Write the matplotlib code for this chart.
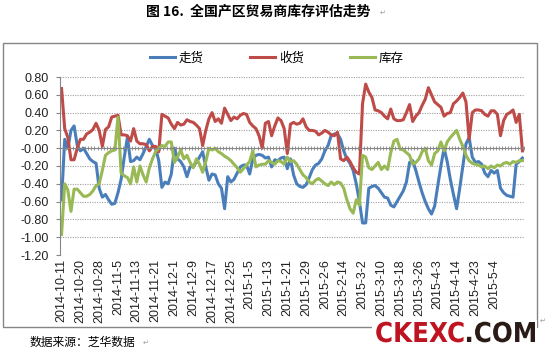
import matplotlib
matplotlib.use("Agg")
import matplotlib.pyplot as plt
import numpy as np
from matplotlib.patches import Rectangle, PathPatch
from matplotlib.textpath import TextPath
from matplotlib.font_manager import FontProperties
from matplotlib.transforms import Affine2D

# 数据
tick_labels = ["2014-10-11", "2014-10-20", "2014-10-28", "2014-11-5", "2014-11-13",
               "2014-11-21", "2014-12-1", "2014-12-9", "2014-12-17", "2014-12-25",
               "2015-1-5", "2015-1-13", "2015-1-21", "2015-1-29", "2015-2-6",
               "2015-2-14", "2015-3-2", "2015-3-10", "2015-3-18", "2015-3-26",
               "2015-4-3", "2015-4-14", "2015-4-23", "2015-5-4"]
label_step = 6

zou_huo = [-0.58, 0.10, 0.00, 0.20, 0.25, 0.03, -0.03, 0.00, -0.06, -0.12,
           -0.15, -0.17, -0.45, -0.55, -0.52, -0.58, -0.63, -0.62, -0.50, -0.35,
           -0.10, 0.12, -0.15, -0.14, -0.10, -0.13, -0.06, 0.02, 0.10, 0.03,
           0.00, -0.14, -0.44, -0.38, -0.40, -0.29, 0.00, -0.12, -0.15, -0.21,
           -0.32, -0.21, -0.20, -0.16, -0.10, -0.04, -0.21, -0.36, -0.29, -0.30,
           -0.40, -0.45, -0.68, -0.32, -0.38, -0.35, -0.28, -0.21, -0.19, -0.19,
           -0.29, -0.12, -0.08, -0.07, -0.08, -0.11, -0.10, -0.21, -0.13, -0.14,
           -0.11, -0.10, -0.23, -0.12, -0.30, -0.40, -0.43, -0.44, -0.41, -0.33,
           -0.24, -0.19, -0.17, -0.12, -0.03, 0.03, 0.14, 0.16, 0.16, 0.10,
           -0.03, -0.12, -0.17, -0.25, -0.40, -0.60, -0.84, -0.84, -0.45, -0.43,
           -0.42, -0.45, -0.50, -0.55, -0.56, -0.64, -0.66, -0.60, -0.54, -0.48,
           -0.38, -0.16, -0.14, -0.25, -0.38, -0.50, -0.60, -0.68, -0.74, -0.65,
           -0.42, -0.20, 0.00, -0.15, -0.35, -0.52, -0.68, -0.45, -0.20, 0.05,
           0.12, -0.10, -0.16, -0.15, -0.18, -0.28, -0.32, -0.25, -0.28, -0.25,
           -0.45, -0.50, -0.53, -0.54, -0.55, -0.18, -0.15, -0.11]

shou_huo = [0.67, 0.22, 0.12, -0.13, -0.13, 0.00, 0.10, 0.10, 0.16, 0.18,
            0.21, 0.28, 0.20, 0.02, 0.21, 0.24, 0.35, 0.36, 0.37, 0.15,
            0.15, 0.14, 0.08, 0.22, 0.08, 0.05, 0.05, 0.04, -0.03, 0.02,
            0.02, -0.04, 0.38, 0.36, 0.34, 0.27, 0.22, 0.29, 0.26, 0.27,
            0.32, 0.30, 0.29, 0.26, 0.22, 0.03, 0.20, 0.33, 0.40, 0.30,
            0.33, 0.28, 0.45, 0.38, 0.31, 0.35, 0.33, 0.37, 0.39, 0.38,
            0.29, 0.25, 0.22, 0.14, 0.00, 0.28, 0.30, 0.14, 0.25, 0.34,
            0.31, 0.22, -0.06, 0.27, 0.29, 0.27, 0.28, 0.33, 0.24, 0.20,
            0.20, 0.19, 0.15, 0.17, 0.20, 0.18, 0.15, 0.14, 0.18, -0.12,
            -0.14, -0.10, -0.15, -0.22, -0.27, -0.29, 0.50, 0.72, 0.63, 0.57,
            0.43, 0.42, 0.40, 0.36, 0.33, 0.44, 0.33, 0.31, 0.31, 0.32,
            0.40, 0.49, 0.30, 0.36, 0.40, 0.48, 0.55, 0.68, 0.60, 0.52,
            0.49, 0.46, 0.36, 0.39, 0.40, 0.50, 0.53, 0.57, 0.62, 0.52,
            0.10, 0.40, 0.43, 0.43, 0.42, 0.38, 0.36, 0.42, 0.42, 0.38,
            0.14, 0.31, 0.38, 0.40, 0.43, 0.29, 0.38, -0.03]

ku_cun = [-0.97, -0.40, -0.47, -0.71, -0.46, -0.46, -0.50, -0.54, -0.54, -0.52,
          -0.48, -0.42, -0.40, -0.25, -0.08, -0.05, -0.03, -0.02, 0.35, -0.28,
          -0.31, -0.33, -0.40, -0.21, -0.38, -0.20, -0.30, -0.38, -0.22, -0.12,
          -0.04, 0.00, 0.03, 0.02, 0.07, 0.07, -0.16, -0.10, -0.02, -0.12,
          -0.08, -0.16, -0.22, -0.12, -0.18, -0.27, -0.15, 0.00, -0.02, 0.00,
          -0.04, -0.06, -0.09, -0.11, -0.14, -0.18, -0.22, -0.27, -0.23, -0.19,
          -0.15, -0.03, -0.21, -0.19, -0.18, -0.18, -0.14, -0.16, -0.18, -0.14,
          -0.15, -0.18, -0.10, -0.15, -0.14, -0.18, -0.24, -0.30, -0.33, -0.38,
          -0.40, -0.36, -0.34, -0.37, -0.40, -0.42, -0.38, -0.41, -0.38, -0.39,
          -0.45, -0.58, -0.68, -0.73, -0.58, -0.64, -0.08, -0.10, -0.22, -0.24,
          -0.20, -0.16, -0.24, -0.20, -0.24, -0.05, 0.08, 0.10, -0.01, -0.02,
          -0.05, -0.08, -0.18, -0.16, -0.12, -0.04, 0.00, -0.14, -0.19, -0.06,
          -0.03, 0.07, -0.03, 0.07, 0.12, 0.16, 0.20, 0.10, 0.02, -0.08,
          -0.14, -0.17, -0.18, -0.19, -0.21, -0.20, -0.23, -0.20, -0.22, -0.19,
          -0.20, -0.17, -0.16, -0.18, -0.15, -0.16, -0.14, -0.14]

cjk = ["Noto Sans CJK SC", "DejaVu Sans"]
W, H = 549, 354

fig = plt.figure(figsize=(W / 100, H / 100), dpi=100)
fig.patch.set_facecolor("white")

# 图表外框
fig.add_artist(Rectangle((3 / W, 1 - 327 / H), 534 / W, 284 / H, fill=False,
                         edgecolor="#868686", lw=1.0, transform=fig.transFigure, zorder=1))

ax = fig.add_axes([60 / W, 1 - 255 / H, (524 - 60) / W, (255 - 77) / H])
x = np.arange(len(shou_huo))
ax.plot(x, zou_huo, color="#4A7EBB", lw=2.2, label="走货")
ax.plot(x, shou_huo, color="#BE4B48", lw=2.2, label="收货")
ax.plot(x, ku_cun, color="#98B954", lw=2.2, label="库存")

ax.set_xlim(-0.5, len(x) - 0.5)
ax.set_ylim(-1.2, 0.8)
yt = np.round(np.arange(-1.2, 0.81, 0.2), 2)
ax.set_yticks(yt)
ax.set_yticklabels(["%.2f" % v for v in yt], fontsize=9, family="Liberation Sans", color="#222222")
ax.tick_params(axis="y", length=3, color="#868686", pad=5)
ax.yaxis.grid(True, linestyle=(0, (1, 1.2)), color="#A0A0A0", lw=0.8)
ax.set_axisbelow(True)

for s in ["top", "right"]:
    ax.spines[s].set_visible(False)
ax.spines["left"].set_color("#868686")
ax.spines["bottom"].set_position(("data", 0))
ax.spines["bottom"].set_color("#868686")
ax.set_xticks([])
ax.set_xticks(np.arange(-0.5, len(x), 1), minor=True)
ax.tick_params(axis="x", which="minor", length=3, direction="inout", color="#868686")

sec = ax.secondary_xaxis(0.0)
sec.set_xticks(np.arange(0, len(tick_labels) * label_step, label_step))
sec.set_xticklabels(tick_labels, rotation=90, fontsize=9, family="Liberation Sans", color="#222222")
sec.tick_params(length=0, pad=3)
sec.spines["bottom"].set_visible(False)

fig.legend(loc="center", bbox_to_anchor=(277 / W, 1 - 58 / H), ncol=3, frameon=False,
           handlelength=2.0, handletextpad=0.3, columnspacing=3.7,
           prop={"family": cjk, "size": 9})

fig.text(258 / W, 1 - 12 / H, "图 16.  全国产区贸易商库存评估走势", ha="center", va="center",
         fontsize=10, fontweight="bold", family=cjk)
fig.text(30 / W, 1 - 342 / H, "数据来源：芝华数据", ha="left", va="center",
         fontsize=8.5, family=cjk)
for px, py in [(380, 13), (143, 343), (540, 321)]:
    fig.text(px / W, 1 - py / H, "↵", fontsize=5, color="#999999", ha="left", va="center",
             family="DejaVu Sans")

# 水印 CKEXC.COM (压窄的粗体)
fig.add_artist(Rectangle((372 / W, 1 - 345 / H), 165 / W, 25 / H, facecolor="white",
                         edgecolor="none", transform=fig.transFigure, zorder=5))
fp = FontProperties(family="DejaVu Sans", weight="bold")
p1 = TextPath((0, 0), "CKEXC", size=27.4, prop=fp)
p2 = TextPath((p1.get_extents().x1 + 1, 0), ".COM", size=27.4, prop=fp)
span = p2.get_extents().x1
sx = (535 - 375) / span
tr = Affine2D().scale(sx, 1.0).translate(375, H - 342)
fig.add_artist(PathPatch(p1, transform=tr, facecolor="#BE1320", edgecolor="none", zorder=6))
fig.add_artist(PathPatch(p2, transform=tr, facecolor="#2B1B17", edgecolor="none", zorder=6))

fig.savefig("out.png", dpi=100, facecolor="white")
